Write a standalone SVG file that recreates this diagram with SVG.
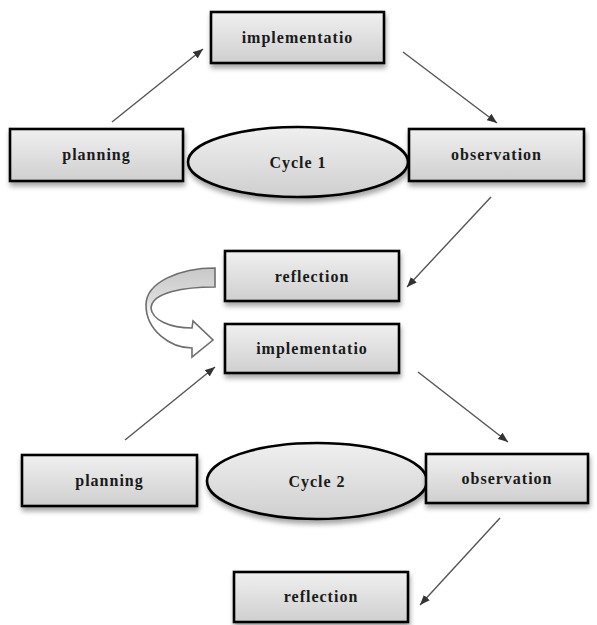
<svg xmlns="http://www.w3.org/2000/svg" width="597" height="625" viewBox="0 0 597 625">
<defs>
<linearGradient id="boxg" x1="0" y1="0" x2="0" y2="1">
<stop offset="0" stop-color="#f0f0f0"/>
<stop offset="1" stop-color="#cfcfcf"/>
</linearGradient>
<linearGradient id="curg" x1="0" y1="0" x2="0" y2="1">
<stop offset="0" stop-color="#c8c8c8"/>
<stop offset="0.35" stop-color="#dcdcdc"/>
<stop offset="0.55" stop-color="#ffffff"/>
<stop offset="1" stop-color="#ffffff"/>
</linearGradient>
<filter id="sh" x="-10%" y="-20%" width="125%" height="150%">
<feDropShadow dx="1" dy="4" stdDeviation="2.5" flood-color="#000" flood-opacity="0.35"/>
</filter>
<marker id="ah" viewBox="0 0 10 8" refX="10" refY="4" markerWidth="10" markerHeight="8" markerUnits="userSpaceOnUse" orient="auto">
<path d="M0,0 L10,4 L0,8 Z" fill="#333"/>
</marker>
<style>
.box{fill:url(#boxg);stroke:#000;stroke-width:2.6;filter:url(#sh)}
.ell{fill:url(#boxg);stroke:#000;stroke-width:2.6;filter:url(#sh)}
.lbl{font-family:"Liberation Serif","DejaVu Serif",serif;font-weight:bold;font-size:16px;letter-spacing:1px;fill:#1a1a1a;text-anchor:middle}
.con{stroke:#555;stroke-width:1.4;fill:none;marker-end:url(#ah)}
</style>
</defs>
<rect width="597" height="625" fill="#fff"/>
<g id="connectors">
<line class="con" x1="112" y1="122" x2="203" y2="49"/>
<line class="con" x1="403" y1="52" x2="497" y2="123"/>
<line class="con" x1="491" y1="197" x2="407" y2="287"/>
<line class="con" x1="125" y1="440" x2="215" y2="367"/>
<line class="con" x1="418" y1="372" x2="508" y2="442"/>
<line class="con" x1="500" y1="518" x2="420" y2="605"/>
<path id="curved-arrow" d="M215,268 C180,268 146,282 146,305 C146,330 170,348 192,348 L192,357 L213,340 L193,321 L192,328 C170,328 152,320 151,308 C152,292 185,287 215,287 Z" fill="url(#curg)" stroke="#6e6e6e" stroke-width="1.6"/>
</g>
<g id="implementation1">
<rect class="box" x="211" y="12" width="173" height="51"/>
<text class="lbl" x="297.5" y="43">implementatio</text>
</g>
<g id="planning1">
<rect class="box" x="10" y="129" width="173" height="52"/>
<text class="lbl" x="96.5" y="160">planning</text>
</g>
<g id="cycle1">
<ellipse class="ell" cx="298" cy="162" rx="110" ry="35"/>
<text class="lbl" x="298" y="168">Cycle 1</text>
</g>
<g id="observation1">
<rect class="box" x="409" y="129" width="175" height="52"/>
<text class="lbl" x="496.5" y="160">observation</text>
</g>
<g id="reflection1">
<rect class="box" x="225" y="251" width="174" height="50"/>
<text class="lbl" x="312" y="282">reflection</text>
</g>
<g id="implementation2">
<rect class="box" x="225" y="324" width="174" height="49"/>
<text class="lbl" x="312" y="354">implementatio</text>
</g>
<g id="planning2">
<rect class="box" x="22" y="455" width="175" height="51"/>
<text class="lbl" x="109.5" y="486">planning</text>
</g>
<g id="cycle2">
<ellipse class="ell" cx="317" cy="481" rx="110" ry="38"/>
<text class="lbl" x="317" y="487">Cycle 2</text>
</g>
<g id="observation2">
<rect class="box" x="426" y="454" width="162" height="49"/>
<text class="lbl" x="507" y="484">observation</text>
</g>
<g id="reflection2">
<rect class="box" x="234" y="572" width="174" height="50"/>
<text class="lbl" x="321" y="602">reflection</text>
</g>
</svg>
